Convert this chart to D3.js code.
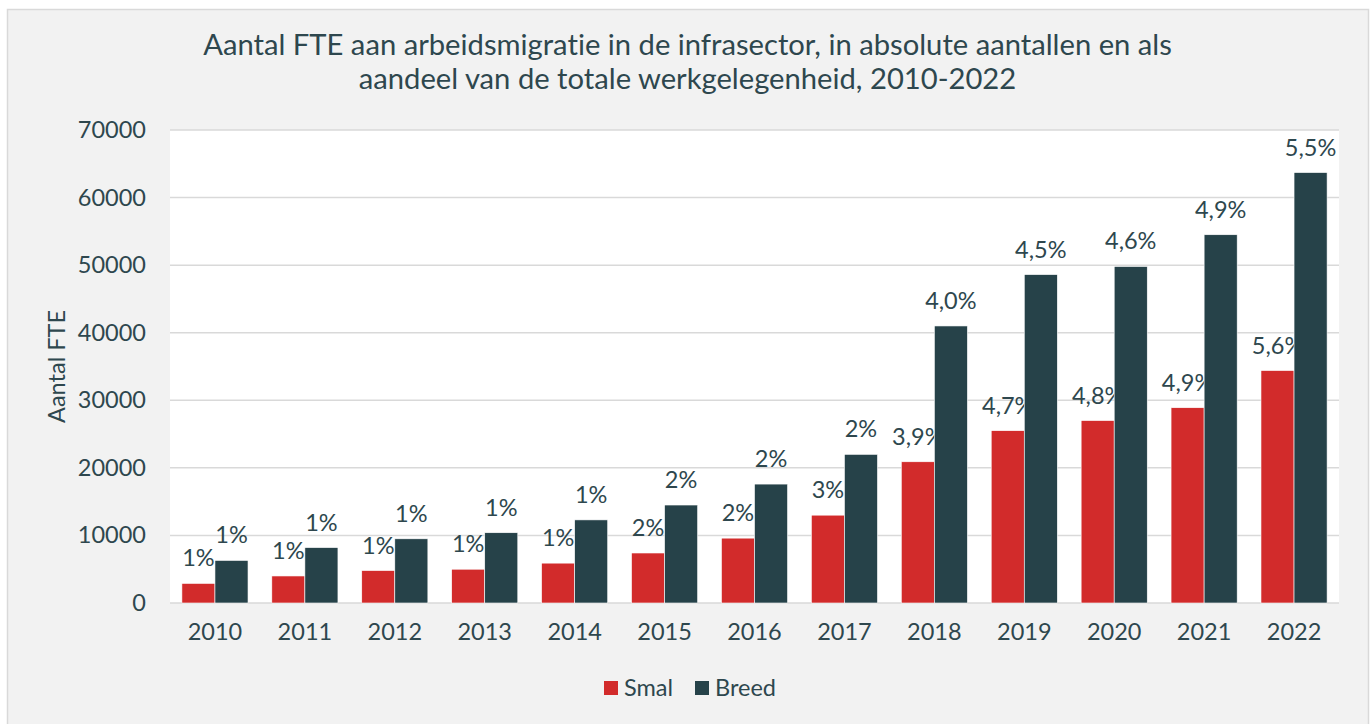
<!DOCTYPE html>
<html>
<head>
<meta charset="utf-8">
<script src="https://cdn.jsdelivr.net/npm/d3@7"></script>
<style>
  body { margin: 0; background: #fff; }
  text { font-family: Lato, "Noto Sans", sans-serif; fill: #2e474e; font-variant-ligatures: none; }
</style>
</head>
<body>
<div id="chart"></div>
<script>
// data
var years = ["2010", "2011", "2012", "2013", "2014", "2015", "2016", "2017", "2018", "2019", "2020", "2021", "2022"];
var smal = [2900, 4000, 4800, 5000, 5900, 7400, 9600, 13000, 20900, 25500, 27000, 28900, 34400];
var breed = [6300, 8200, 9500, 10400, 12300, 14500, 17600, 22000, 41000, 48600, 49800, 54500, 63700];
var smalLabels = ["1%", "1%", "1%", "1%", "1%", "2%", "2%", "3%", "3,9%", "4,7%", "4,8%", "4,9%", "5,6%"];
var breedLabels = ["1%", "1%", "1%", "1%", "1%", "2%", "2%", "2%", "4,0%", "4,5%", "4,6%", "4,9%", "5,5%"];
var yTicks = [0, 10000, 20000, 30000, 40000, 50000, 60000, 70000];
var seriesNames = ["Smal", "Breed"];
var colors = { Smal: "#d22b2b", Breed: "#264249" };

var W = 1370, H = 724;
var plot = { left: 170, right: 1339, top: 130, bottom: 603 };
var fontSize = "23.5px";

var svg = d3.select("#chart").append("svg")
    .attr("width", W)
    .attr("height", H);

// outer chart frame
svg.append("rect")
    .attr("x", 7.5).attr("y", 9.5)
    .attr("width", 1361).attr("height", 720)
    .attr("fill", "#f2f2f2")
    .attr("stroke", "#d9d9d9")
    .attr("stroke-width", 1.5);

// plot area
svg.append("rect")
    .attr("x", plot.left).attr("y", plot.top)
    .attr("width", plot.right - plot.left).attr("height", plot.bottom - plot.top)
    .attr("fill", "#fff");

var x = d3.scaleBand().domain(years).range([plot.left, plot.right]);
var xs = d3.scaleBand().domain(seriesNames).range([0, x.bandwidth()]).paddingOuter(0.36);
var y = d3.scaleLinear().domain([0, 70000]).range([plot.bottom, plot.top]);

// gridlines
svg.append("g").selectAll("line")
    .data(yTicks)
    .enter().append("line")
    .attr("x1", plot.left).attr("x2", plot.right)
    .attr("y1", function(d) { return y(d); })
    .attr("y2", function(d) { return y(d); })
    .attr("stroke", "#d9d9d9")
    .attr("stroke-width", 1.5);

// y axis labels
var yAxis = svg.append("g")
    .attr("transform", "translate(" + plot.left + ",0)")
    .call(d3.axisLeft(y).tickValues(yTicks).tickSize(0).tickPadding(24).tickFormat(d3.format("d")));
yAxis.select(".domain").remove();
yAxis.selectAll("text").style("font-size", fontSize).attr("fill", "#2e474e");

// x axis labels
var xAxis = svg.append("g")
    .attr("transform", "translate(0," + plot.bottom + ")")
    .call(d3.axisBottom(x).tickSize(0).tickPadding(20));
xAxis.select(".domain").remove();
xAxis.selectAll("text").style("font-size", fontSize).attr("fill", "#2e474e");

// draws one series: bars then its labels, so later bars sit over earlier labels
function drawSeries(name, values, labels) {
  var g = svg.append("g");
  g.selectAll("rect")
      .data(values)
      .enter().append("rect")
      .attr("x", function(d, i) { return x(years[i]) + xs(name); })
      .attr("width", xs.bandwidth())
      .attr("y", function(d) { return y(d); })
      .attr("height", function(d) { return y(0) - y(d); })
      .attr("fill", colors[name])
      .attr("stroke", "#ffffff")
      .attr("stroke-width", 0.6);

  g.selectAll("text")
      .data(values)
      .enter().append("text")
      .attr("x", function(d, i) { return x(years[i]) + xs(name) + xs.bandwidth() / 2; })
      .attr("y", function(d) { return y(d) - 17; })
      .attr("text-anchor", "middle")
      .style("font-size", fontSize)
      .text(function(d, i) { return labels[i]; });
}
drawSeries("Smal", smal, smalLabels);
drawSeries("Breed", breed, breedLabels);

// title
var title = svg.append("text")
    .attr("x", 687.5)
    .attr("text-anchor", "middle")
    .style("font-size", "29.2px");
title.append("tspan").attr("x", 687.5).attr("y", 55)
    .text("Aantal FTE aan arbeidsmigratie in de infrasector, in absolute aantallen en als");
title.append("tspan").attr("x", 687.5).attr("y", 89)
    .text("aandeel van de totale werkgelegenheid, 2010-2022");

// y axis title
svg.append("text")
    .attr("transform", "translate(65," + ((plot.top + plot.bottom) / 2) + ") rotate(-90)")
    .attr("text-anchor", "middle")
    .style("font-size", fontSize)
    .text("Aantal FTE");

// legend
var legend = svg.append("g");
var legendX = [604, 695];
seriesNames.forEach(function(name, i) {
  legend.append("rect")
      .attr("x", legendX[i]).attr("y", 681)
      .attr("width", 14).attr("height", 14)
      .attr("fill", colors[name]);
  legend.append("text")
      .attr("x", legendX[i] + 20).attr("y", 696)
      .style("font-size", fontSize)
      .text(name);
});
</script>
</body>
</html>
